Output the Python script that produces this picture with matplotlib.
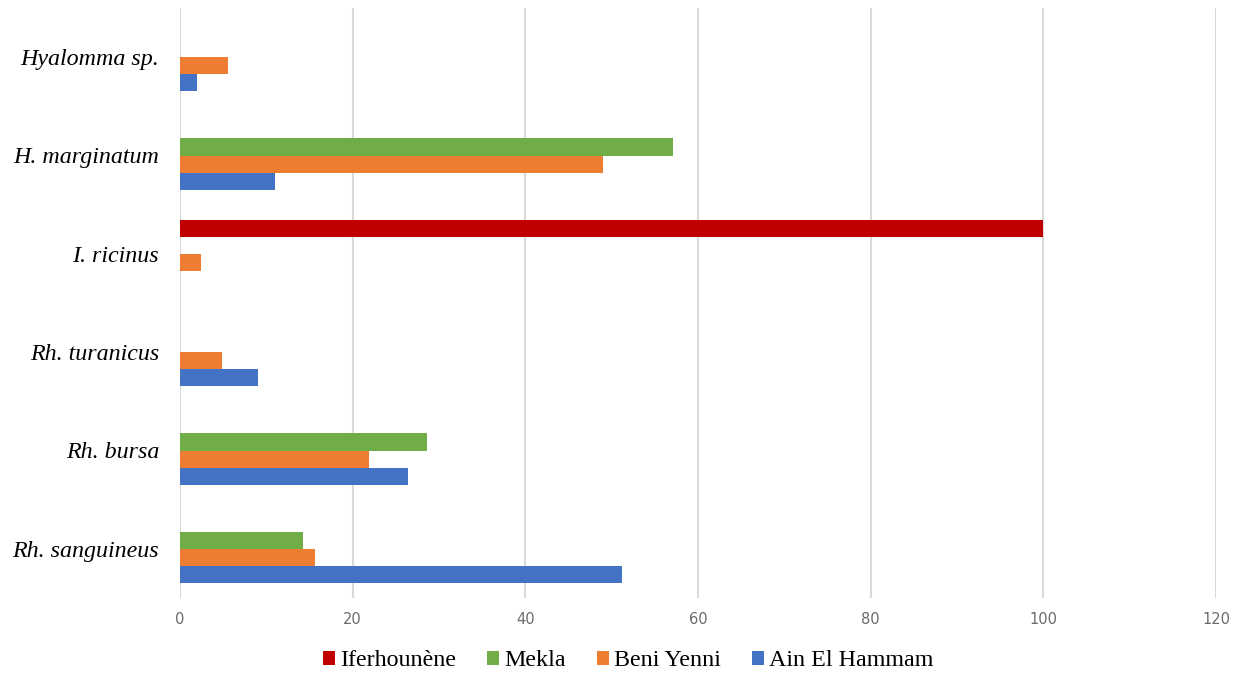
import numpy as np
import matplotlib.pyplot as plt

# tick species, bottom to top
species = ['Rh. sanguineus', 'Rh. bursa', 'Rh. turanicus',
           'I. ricinus', 'H. marginatum', 'Hyalomma sp.']

# percentages per locality (0 = absent)
ain_el_hammam = [51.2, 26.4, 9.0, 0, 11.0, 2.0]
beni_yenni = [15.6, 21.9, 4.9, 2.4, 49.0, 5.6]
mekla = [14.2, 28.6, 0, 0, 57.1, 0]
iferhounene = [0, 0, 0, 100, 0, 0]

series = [
    ('Ain El Hammam', ain_el_hammam, '#4472C4'),
    ('Beni Yenni', beni_yenni, '#ED7D31'),
    ('Mekla', mekla, '#70AD47'),
    ('Iferhounène', iferhounene, '#C00000'),
]

fig = plt.figure(figsize=(12.39, 6.75), dpi=100)
ax = fig.add_axes([180 / 1239, 1 - 598 / 675, (1216 - 180) / 1239, 590 / 675])

y = np.arange(len(species))
h = 0.173
bars = []
for i, (name, vals, col) in enumerate(series):
    b = ax.barh(y + (i - 1.5) * h, vals, height=h, color=col, label=name, zorder=3)
    bars.append(b)

ax.set_xlim(0, 120)
ax.set_ylim(-0.5, len(species) - 0.5)
ax.set_xticks(np.arange(0, 121, 20))
ax.set_yticks(y)
ax.set_yticklabels(species, family='Liberation Serif', style='italic', fontsize=17.3)
ax.tick_params(axis='x', labelsize=10.5, colors='#6b6b6b', length=0, pad=10)
ax.tick_params(axis='y', length=0, pad=15)
ax.grid(axis='x', color='#d9d9d9', linewidth=1.5, zorder=0)
for s in ax.spines.values():
    s.set_visible(False)

handles = bars[::-1]
fig.legend(handles, [s[0] for s in series][::-1], loc='center',
           bbox_to_anchor=(628 / 1239, 1 - 661 / 675), ncol=4, frameon=False,
           prop={'family': 'Liberation Serif', 'size': 17.3},
           handlelength=0.5, handleheight=0.5, handletextpad=0.2,
           columnspacing=1.3)

fig.savefig('out.png', dpi=100)
